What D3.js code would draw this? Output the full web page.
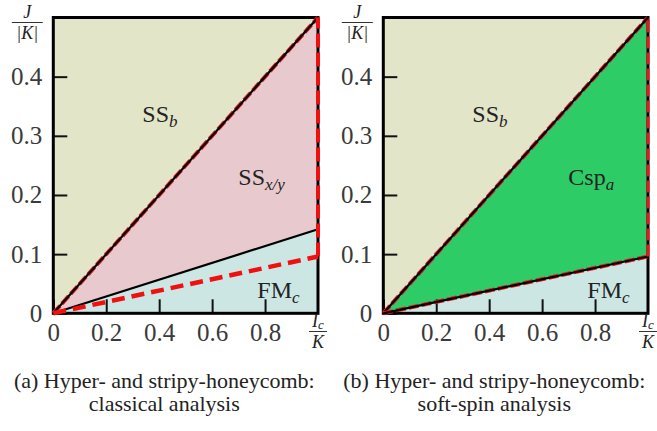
<!DOCTYPE html>
<html>
<head>
<meta charset="utf-8">
<script src="https://cdn.jsdelivr.net/npm/d3@7"></script>
<style>
  body { margin: 0; background: #fff; }
  svg text { font-family: "Liberation Serif", "Times New Roman", serif; fill: #222; }
</style>
</head>
<body>
<svg id="fig" width="657" height="431"></svg>
<script>
// ---- data ----
var xTicks = [0, 0.2, 0.4, 0.6, 0.8];
var yTicks = [0, 0.1, 0.2, 0.3, 0.4];
var icVals = [0, 1];                  // I_c/K at the two ends of every (straight) boundary
var upperBound = [0, 0.5];            // SS_b | middle phase
var lowerClassical = [0, 0.142];      // SS_x/y | FM_c, classical (solid)
var lowerClassicalDash = [0, 0.096];  // soft-spin boundary overlaid on (a)
var lowerSoftSpin = [0, 0.096];       // Csp_a | FM_c
var captions = [
  ["(a) Hyper- and stripy-honeycomb:", "classical analysis"],
  ["(b) Hyper- and stripy-honeycomb:", "soft-spin analysis"]
];

var W = 264.7, H = 295.8, plotTop = 17.5;
var svg = d3.select("#fig");

var x = d3.scaleLinear().domain([0, 1]).range([0, W]);
var y = d3.scaleLinear().domain([0, 0.5]).range([H, 0]);
var line = d3.line().x(function(d){ return x(d[0]); }).y(function(d){ return y(d[1]); });
function pts(ys) { return icVals.map(function(v, i){ return [v, ys[i]]; }); }

function drawPanel(left, cfg) {
  var g = svg.append("g").attr("transform", "translate(" + left + "," + plotTop + ")");
  var lo = cfg.lower[1], up = upperBound[1];

  // phase regions
  g.append("path").attr("d", line([[0,0],[1,up],[0,0.5]])).attr("fill", "#e3e5c9");
  g.append("path").attr("d", line([[0,0],[1,up],[1,lo]])).attr("fill", cfg.midColor);
  g.append("path").attr("d", line([[0,0],[1,lo],[1,0]])).attr("fill", "#cce6e4");

  // axes (inward ticks)
  var ya = g.append("g").call(d3.axisLeft(y).tickValues(yTicks).tickSize(-14).tickPadding(11)
      .tickFormat(function(d){ return d === 0 ? "0" : d3.format(".1f")(d); }));
  var xa = g.append("g").attr("transform", "translate(0," + H + ")")
      .call(d3.axisBottom(x).tickValues(xTicks).tickSize(-14).tickPadding(10)
      .tickFormat(function(d){ return d === 0 ? "0" : d3.format(".1f")(d); }));
  [ya, xa].forEach(function(a){
    a.select(".domain").remove();
    a.selectAll("line").attr("stroke", "#111").attr("stroke-width", 2);
    a.selectAll("text").attr("font-size", 25).style("font-family", "'Liberation Serif', serif").style("fill", "#3a3a3a");
  });

  // frame
  g.append("rect").attr("width", W).attr("height", H).attr("fill", "none")
    .attr("stroke", "#000").attr("stroke-width", 3);

  // boundaries
  g.append("path").attr("d", line(pts(upperBound))).attr("stroke", "#e31a1c")
    .attr("stroke-width", 4).attr("stroke-dasharray", "10,3").attr("fill", "none");
  g.append("path").attr("d", line(pts(upperBound))).attr("stroke", "#000")
    .attr("stroke-width", 2.2).attr("fill", "none");

  if (cfg.dashLower) {
    g.append("path").attr("d", line(pts(cfg.lower))).attr("stroke", "#000")
      .attr("stroke-width", 2.2).attr("fill", "none");
    g.append("path").attr("d", line(pts(cfg.dashLower))).attr("stroke", "#f01010")
      .attr("stroke-width", 4.5).attr("stroke-dasharray", "13,7").attr("fill", "none");
    g.append("path").attr("d", line([[1, cfg.dashLower[1]], [1, 0.5]])).attr("stroke", "#f01010")
      .attr("stroke-width", 4).attr("stroke-dasharray", "14,5").attr("fill", "none");
  } else {
    g.append("path").attr("d", line(pts(cfg.lower))).attr("stroke", "#e31a1c")
      .attr("stroke-width", 4).attr("stroke-dasharray", "10,3").attr("fill", "none");
    g.append("path").attr("d", line(pts(cfg.lower))).attr("stroke", "#000")
      .attr("stroke-width", 2.2).attr("fill", "none");
    g.append("path").attr("d", line([[1, lo], [1, 0.5]])).attr("stroke", "#e31a1c")
      .attr("stroke-width", 3).attr("stroke-dasharray", "12,4").attr("fill", "none");
  }

  // region labels
  function label(px, py, main, sub) {
    var t = g.append("text").attr("x", px).attr("y", py).attr("font-size", 24);
    t.append("tspan").text(main);
    t.append("tspan").attr("dy", 5).attr("font-size", 17).attr("font-style", "italic").text(sub);
  }
  label(89, 104.5, "SS", "b");
  label(cfg.midPos[0], cfg.midPos[1], cfg.midName, cfg.midSub);
  label(204, 280.5, "FM", "c");

  // axis fractions
  function frac(cx, cy, num, numSub, den, w) {
    var t = g.append("text").attr("x", cx).attr("y", cy - 5).attr("text-anchor", "middle")
      .attr("font-size", 18).attr("font-style", "italic");
    t.append("tspan").text(num);
    if (numSub) t.append("tspan").attr("dy", 2).attr("font-size", 13).text(numSub);
    g.append("line").attr("x1", cx - w/2).attr("x2", cx + w/2).attr("y1", cy).attr("y2", cy)
      .attr("stroke", "#333").attr("stroke-width", 1);
    g.append("text").attr("x", cx).attr("y", cy + 16).attr("text-anchor", "middle")
      .attr("font-size", 18).attr("font-style", "italic").text(den);
  }
  frac(-26, 5, "J", null, "|K|", 31);
  frac(W, 314, "I", "c", "K", 18);

  // caption
  var cap = svg.append("text").attr("font-size", 22).attr("text-anchor", "middle");
  cap.append("tspan").attr("x", left + cfg.capX).attr("y", 388).text(cfg.caption[0]);
  cap.append("tspan").attr("x", left + cfg.capX).attr("y", 411).text(cfg.caption[1]);
}

drawPanel(53.3, { lower: lowerClassical, dashLower: lowerClassicalDash, midColor: "#e8c9ce",
  midName: "SS", midSub: "x/y", midPos: [185, 167.5], caption: captions[0], capX: 111 });
drawPanel(383.3, { lower: lowerSoftSpin, dashLower: null, midColor: "#2ecc66",
  midName: "Csp", midSub: "a", midPos: [185, 167.5], caption: captions[1], capX: 111 });
</script>
</body>
</html>
